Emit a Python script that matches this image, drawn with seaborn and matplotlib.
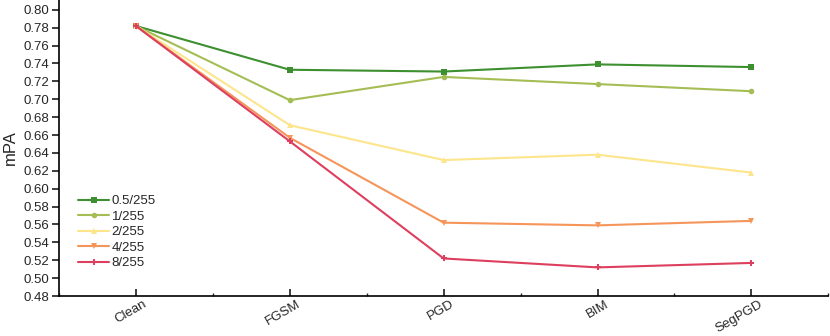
import pandas as pd
import matplotlib.pyplot as plt
import matplotlib.transforms as mtransforms
import seaborn as sns
from matplotlib.ticker import MultipleLocator

attacks = ["Clean", "FGSM", "PGD", "BIM", "SegPGD"]
eps_labels = ["0.5/255", "1/255", "2/255", "4/255", "8/255"]
mpa_05 = [0.782, 0.733, 0.731, 0.739, 0.736]
mpa_1 = [0.782, 0.699, 0.725, 0.717, 0.709]
mpa_2 = [0.782, 0.671, 0.632, 0.638, 0.618]
mpa_4 = [0.782, 0.657, 0.562, 0.559, 0.564]
mpa_8 = [0.782, 0.653, 0.522, 0.512, 0.517]

colors = ["#3d8f2f", "#a5bd55", "#fde58c", "#f5955a", "#dd3f5e"]
markers = ["s", "o", "^", "v", "P"]


def build_frame() -> pd.DataFrame:
    rows = []
    for label, vals in zip(eps_labels, [mpa_05, mpa_1, mpa_2, mpa_4, mpa_8]):
        for i, v in enumerate(vals):
            rows.append({"x": i, "Attack": attacks[i], "eps": label, "mPA": v})
    return pd.DataFrame(rows)


def main() -> None:
    sns.set_theme(style="ticks")
    plt.rcParams["font.family"] = ["Liberation Sans", "DejaVu Sans"]

    df = build_frame()
    fig, ax = plt.subplots(figsize=(8.3, 3.36), dpi=100)
    sns.lineplot(
        data=df, x="x", y="mPA", hue="eps", style="eps",
        palette=colors, markers=markers, dashes=False,
        linewidth=1.5, markersize=4, markeredgewidth=0, ax=ax,
    )

    ax.set_xlim(-0.5, 4.5)
    ax.set_ylim(0.48, 0.811)
    ax.yaxis.set_major_locator(MultipleLocator(0.02))
    ax.yaxis.set_major_formatter(plt.FormatStrFormatter("%.2f"))
    ax.set_xticks(range(len(attacks)))
    ax.xaxis.set_minor_locator(MultipleLocator(0.5))
    ax.tick_params(axis="x", which="major", direction="in", length=5, labelsize=9.5, pad=3)
    ax.tick_params(axis="x", which="minor", direction="in", length=2)
    ax.tick_params(axis="y", direction="out", length=5, labelsize=9.5, pad=2)
    ax.set_xticklabels(attacks, rotation=30, ha="right", rotation_mode="anchor")
    # nudge rotated labels so their upper-right end sits just right of the tick
    shift = mtransforms.ScaledTranslation(0.07, 0.02, fig.dpi_scale_trans)
    for lab in ax.get_xticklabels():
        lab.set_transform(lab.get_transform() + shift)
    ax.set_xlabel("")
    ax.set_ylabel("mPA", fontsize=12, labelpad=4)

    sns.despine(ax=ax)
    for s in ["left", "bottom"]:
        ax.spines[s].set_linewidth(1.2)
        ax.spines[s].set_color("black")

    ax.legend(
        loc="lower left", bbox_to_anchor=(0.01, 0.05), frameon=False,
        fontsize=9.5, labelspacing=0.25, handlelength=2.3, handletextpad=0.2,
    )
    fig.subplots_adjust(left=0.071, right=0.998, top=1.0, bottom=0.119)
    fig.savefig("out.png")
    plt.close(fig)


if __name__ == "__main__":
    main()
